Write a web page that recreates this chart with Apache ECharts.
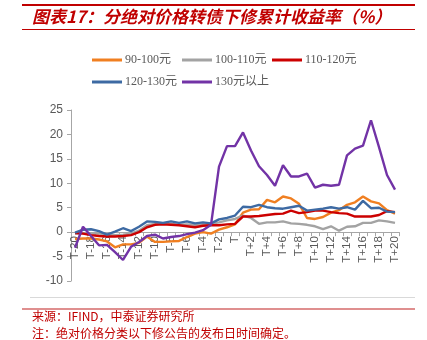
<!DOCTYPE html>
<html>
<head>
<meta charset="utf-8">
<script src="https://cdn.jsdelivr.net/npm/echarts@6/dist/echarts.min.js"></script>
<style>
  html, body { margin: 0; padding: 0; background: #fff; }
  #chart { width: 427px; height: 340px; }
</style>
</head>
<body>
<div id="chart"></div>
<script>
// Trading days relative to the revision announcement date
const categories = [
  'T-20','T-19','T-18','T-17','T-16','T-15','T-14','T-13','T-12','T-11',
  'T-10','T-9','T-8','T-7','T-6','T-5','T-4','T-3','T-2','T-1',
  'T',
  'T+1','T+2','T+3','T+4','T+5','T+6','T+7','T+8','T+9','T+10',
  'T+11','T+12','T+13','T+14','T+15','T+16','T+17','T+18','T+19','T+20'
];

// Cumulative return (%) by absolute price bucket
const price90to100 = [
  -1.4, -1.3, -1.3, -1.5, -1.9, -3.1, -2.5, -2.5, -2.2, -0.9,
  -2.0, -2.0, -1.9, -1.8, -1.0, -0.3, 0.0, -0.3, 0.5, 1.0,
  1.6,
  4.0, 4.6, 4.7, 6.6, 6.1, 7.3, 6.9, 5.8, 2.9, 2.7,
  3.1, 4.0, 4.5, 5.6, 6.1, 7.3, 6.3, 5.9, 4.5, 3.8
];
const price100to110 = [
  -0.3, -0.2, -0.3, -0.3, -0.6, -0.6, -0.5, -0.3, 0.3, 1.4,
  1.7, 1.8, 1.7, 1.5, 1.6, 1.5, 1.6, 1.7, 2.0, 2.4,
  2.7,
  3.4, 2.9, 1.7, 2.0, 2.0, 2.2, 1.8, 1.7, 1.5, 1.2,
  0.6, 1.2, 0.3, 1.1, 1.2, 1.9, 1.9, 2.4, 2.2, 1.9
];
const price110to120 = [
  -0.2, -0.3, -0.6, -0.8, -0.9, -0.9, -0.8, -0.6, 0.0, 1.0,
  1.5, 1.6, 1.5, 1.4, 1.2, 1.0, 1.3, 1.4, 1.4, 1.6,
  1.7,
  3.2, 3.2, 3.3, 3.5, 3.7, 3.8, 4.4, 3.9, 4.1, 4.4,
  4.4, 4.1, 3.9, 3.8, 3.2, 3.2, 3.2, 3.5, 4.3, 4.1
];
const price120to130 = [
  -0.1, 0.5, 0.6, 0.2, -0.5, 0.1, 0.8, 0.2, 1.1, 2.2,
  2.1, 1.9, 2.2, 1.9, 2.2, 1.8, 2.0, 1.8, 2.6, 2.9,
  3.4,
  5.2, 5.1, 5.6, 5.1, 4.9, 4.8, 5.1, 5.4, 4.4, 4.6,
  4.8, 5.1, 4.8, 5.1, 4.6, 6.4, 4.9, 5.0, 4.2, 4.1
];
const priceAbove130 = [
  -3.2, 1.1, -0.8, -2.7, -2.6, -4.1, -5.7, -3.0, -2.0, -0.8,
  -0.5, -1.3, -1.0, -0.8, -0.4, -0.1, 0.4, 1.5, 13.4, 17.6,
  17.6,
  20.4, 16.7, 13.5, 11.7, 9.5, 13.7, 11.4, 11.4, 12.0, 9.1,
  9.7, 9.5, 9.7, 15.7, 17.1, 17.7, 22.9, 17.4, 11.7, 8.7
];

const seriesNames = ['90-100元', '100-110元', '110-120元', '120-130元', '130元以上'];
const seriesData = [price90to100, price100to110, price110to120, price120to130, priceAbove130];
const seriesColors = ['#F07F21', '#A3A3A3', '#CC0000', '#3D6AA3', '#7233A6'];

// Y-axis ticks
const yMin = -10, yMax = 25, yStep = 5;

const titleText = '图表17：分绝对价格转债下修累计收益率（%）';
const sourceText = '来源：IFIND，中泰证券研究所';
const noteText = '注：绝对价格分类以下修公告的发布日时间确定。';

const cjk = '"Noto Sans CJK SC", sans-serif';
const legendFont = '"Liberation Serif", "Noto Sans CJK SC", serif';
const axisFont = '"Liberation Sans", Arial, sans-serif';

const legendSlots = [
  { left: 92, top: 54 }, { left: 182, top: 54 }, { left: 272, top: 54 },
  { left: 92, top: 76 }, { left: 182, top: 76 }
];

// Plot area
const gridTop = 110, gridBottom = 59, chartHeight = 340;
const plotHeight = chartHeight - gridTop - gridBottom;
// Lift the category axis from the bottom edge up to the zero line
const zeroOffset = -plotHeight * (0 - yMin) / (yMax - yMin);

const chart = echarts.init(document.getElementById('chart'), null, { renderer: 'canvas' });

chart.setOption({
  backgroundColor: '#ffffff',
  animation: false,
  legend: seriesNames.map((name, i) => ({
    data: [name],
    left: legendSlots[i].left,
    top: legendSlots[i].top,
    icon: 'rect',
    itemWidth: 30,
    itemHeight: 3,
    itemGap: 0,
    padding: 0,
    selectedMode: false,
    textStyle: { color: '#595959', fontSize: 12, fontFamily: legendFont, padding: [0, 0, 0, -2] }
  })),
  grid: { left: 71, right: 28, top: gridTop, bottom: gridBottom, containLabel: false },
  xAxis: {
    type: 'category',
    data: categories,
    position: 'bottom',
    offset: zeroOffset,
    boundaryGap: true,
    axisLine: { onZero: false, lineStyle: { color: '#A6A6A6', width: 1 } },
    axisTick: { show: true, interval: 0, length: 4, lineStyle: { color: '#A6A6A6' } },
    axisLabel: {
      interval: 1,
      rotate: 90,
      color: '#595959',
      fontSize: 11.5,
      fontFamily: axisFont,
      margin: 4
    },
    splitLine: { show: false }
  },
  yAxis: {
    type: 'value',
    min: yMin,
    max: yMax,
    interval: yStep,
    axisLine: { show: true, lineStyle: { color: '#A6A6A6', width: 1 } },
    axisTick: { show: true, length: 4, lineStyle: { color: '#A6A6A6' } },
    axisLabel: { color: '#595959', fontSize: 12, fontFamily: axisFont, margin: 8 },
    splitLine: { show: false }
  },
  series: seriesNames.map((name, i) => ({
    name: name,
    type: 'line',
    data: seriesData[i],
    symbol: 'none',
    smooth: false,
    lineStyle: { color: seriesColors[i], width: 2.4 },
    itemStyle: { color: seriesColors[i] },
    z: 2 + i
  })),
  graphic: [
    { type: 'line', shape: { x1: 22, y1: 5, x2: 415, y2: 5 }, style: { stroke: '#C00000', lineWidth: 2 } },
    {
      type: 'text', left: 32, top: 8,
      style: { text: titleText, fill: '#C00000', font: 'italic bold 17px ' + cjk }
    },
    { type: 'line', shape: { x1: 22, y1: 29.5, x2: 415, y2: 29.5 }, style: { stroke: '#C00000', lineWidth: 1 } },
    { type: 'line', shape: { x1: 30, y1: 297.5, x2: 415, y2: 297.5 }, style: { stroke: '#D9D9D9', lineWidth: 1 } },
    { type: 'line', shape: { x1: 22, y1: 309, x2: 415, y2: 309 }, style: { stroke: '#D46A6A', lineWidth: 1.5 } },
    {
      type: 'text', left: 32, top: 310,
      style: { text: sourceText, fill: '#C00000', font: '12px ' + cjk }
    },
    {
      type: 'text', left: 32, top: 327,
      style: { text: noteText, fill: '#C00000', font: '12px ' + cjk }
    }
  ]
});
</script>
</body>
</html>
